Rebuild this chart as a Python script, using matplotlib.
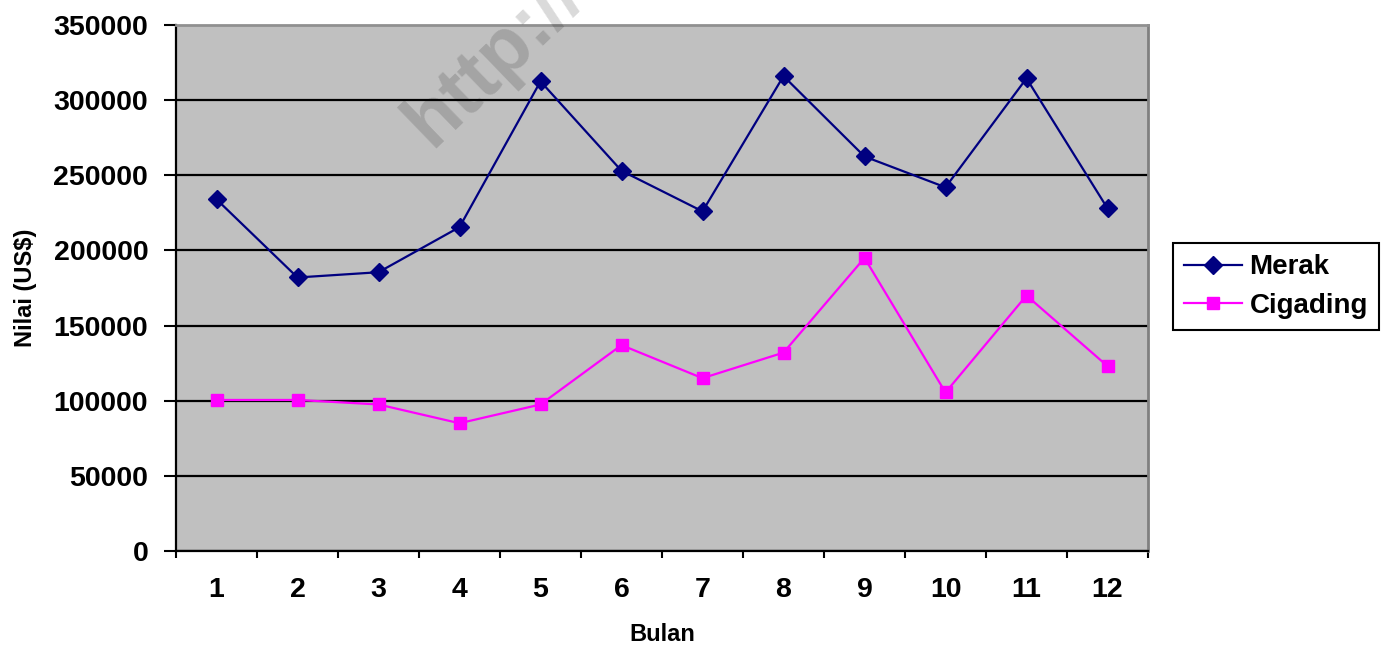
import matplotlib
matplotlib.use("Agg")
import matplotlib.pyplot as plt
import numpy as np

# data
bulan = [1, 2, 3, 4, 5, 6, 7, 8, 9, 10, 11, 12]
merak = [234000, 182000, 185500, 215500, 312500, 253000, 226000, 316000, 262500, 242000, 314500, 228000]
cigading = [100500, 100500, 97500, 85000, 97500, 137000, 115000, 132000, 195000, 105500, 170000, 123000]
yticks = [0, 50000, 100000, 150000, 200000, 250000, 300000, 350000]

plt.rcParams['font.family'] = ['Liberation Sans', 'DejaVu Sans']
plt.rcParams['font.weight'] = 'bold'

fig = plt.figure(figsize=(13.87, 6.51), dpi=100)
ax = fig.add_axes([176/1387, 100/651, 972/1387, 526/651])
ax.set_facecolor('#c0c0c0')

ax.plot(bulan, merak, color='#000080', lw=1.6, marker='D', markersize=9, label='Merak', zorder=3)
ax.plot(bulan, cigading, color='#ff00ff', lw=1.6, marker='s', markersize=9, label='Cigading', zorder=3)

ax.set_xlim(0.5, 12.5)
ax.set_ylim(0, 350000)
ax.set_yticks(yticks)
ax.set_yticklabels([str(v) for v in yticks], fontsize=20.5, fontweight='bold')
ax.set_xticks(bulan)
ax.set_xticklabels([str(b) for b in bulan], fontsize=20.5, fontweight='bold')
ax.set_xticks(np.arange(0.5, 13, 1), minor=True)
ax.tick_params(axis='x', which='major', length=0, pad=19)
ax.tick_params(axis='x', which='minor', length=5, width=1.5, direction='out')
ax.tick_params(axis='y', length=9, width=1.5, direction='out', pad=11)

ax.yaxis.grid(True, color='black', lw=1.6)
ax.yaxis.get_gridlines()[-1].set_visible(False)
ax.set_axisbelow(True)

ax.spines['left'].set_color('black')
ax.spines['left'].set_linewidth(1.6)
ax.spines['bottom'].set_color('black')
ax.spines['bottom'].set_linewidth(1.6)
ax.spines['top'].set_color('#909090')
ax.spines['top'].set_linewidth(2)
ax.spines['right'].set_color('#808080')
ax.spines['right'].set_linewidth(2)

ax.set_xlabel('Bulan', fontsize=17, fontweight='bold', labelpad=14)
ax.set_ylabel('Nilai (US$)', fontsize=17, fontweight='bold', labelpad=12)

leg = ax.legend(loc='center left', bbox_to_anchor=(1173/1387, (651-286.5)/651),
                bbox_transform=fig.transFigure, borderaxespad=0, fontsize=20,
                fancybox=False, edgecolor='black', framealpha=1, handlelength=2.1,
                handletextpad=0.25, borderpad=0.4, labelspacing=0.45)
leg.get_frame().set_linewidth(1.5)
for t in leg.get_texts():
    t.set_fontweight('bold')

# faint watermark
fig.text(432/1387, (651-148)/651, 'http://b', fontsize=56, fontweight='bold',
         color='black', alpha=0.15, rotation=44, rotation_mode='anchor',
         ha='left', va='baseline')

fig.savefig('out.png', dpi=100)
